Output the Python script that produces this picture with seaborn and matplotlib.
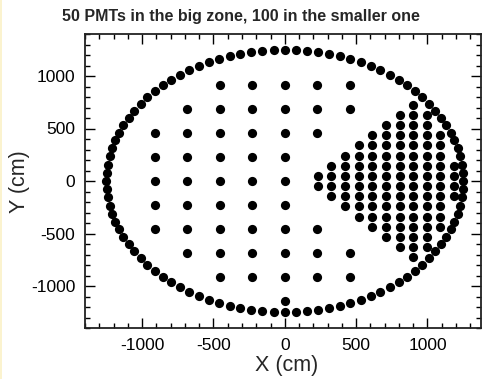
import matplotlib
matplotlib.use("Agg")
import matplotlib.pyplot as plt
from matplotlib.ticker import MultipleLocator
from matplotlib.patches import Rectangle
import seaborn as sns
import pandas as pd

title = "50 PMTs in the big zone, 100 in the smaller one"
x_label = "X (cm)"
y_label = "Y (cm)"
x_ticks = [-1000, -500, 0, 500, 1000]
y_ticks = [-1000, -500, 0, 500, 1000]

# outer ring of PMTs (cm)
ring_x = [1250, 1248, 1240, 1228, 1211, 1189, 1162, 1131, 1095, 1055, 1011, 963, 911, 856, 797, 735,
          670, 602, 532, 460, 386, 311, 234, 157, 78, 0, -78, -157, -234, -311, -386, -460, -532,
          -602, -670, -735, -797, -856, -911, -963, -1011, -1055, -1095, -1131, -1162, -1189, -1211,
          -1228, -1240, -1248, -1250, -1248, -1240, -1228, -1211, -1189, -1162, -1131, -1095, -1055,
          -1011, -963, -911, -856, -797, -735, -670, -602, -532, -460, -386, -311, -234, -157, -78,
          0, 78, 157, 234, 311, 386, 460, 532, 602, 670, 735, 797, 856, 911, 963, 1011, 1055, 1095,
          1131, 1162, 1189, 1211, 1228, 1240, 1248]
ring_y = [0, 78, 157, 234, 311, 386, 460, 532, 602, 670, 735, 797, 856, 911, 963, 1011, 1055, 1095,
          1131, 1162, 1189, 1211, 1228, 1240, 1248, 1250, 1248, 1240, 1228, 1211, 1189, 1162, 1131,
          1095, 1055, 1011, 963, 911, 856, 797, 735, 670, 602, 532, 460, 386, 311, 234, 157, 78, 0,
          -78, -157, -234, -311, -386, -460, -532, -602, -670, -735, -797, -856, -911, -963, -1011,
          -1055, -1095, -1131, -1162, -1189, -1211, -1228, -1240, -1248, -1250, -1248, -1240, -1228,
          -1211, -1189, -1162, -1131, -1095, -1055, -1011, -963, -911, -856, -797, -735, -670, -602,
          -532, -460, -386, -311, -234, -157, -78]

# big zone: 50 PMTs, listed row by row
big_rows_y = [912, 684, 456, 228, 0, -228, -456, -684, -912, -1140]
big_rows_x = [
    [-456, -228, 0, 228, 456],
    [-684, -456, -228, 0, 228, 456],
    [-912, -684, -456, -228, 0, 228],
    [-912, -684, -456, -228, 0],
    [-912, -684, -456, -228, 0],
    [-912, -684, -456, -228, 0],
    [-912, -684, -456, -228, 0, 228],
    [-684, -456, -228, 0, 228, 456],
    [-456, -228, 0, 228, 456],
    [0],
]

# smaller zone: 100 PMTs, listed row by row
small_rows_y = [722, 626, 530, 436, 340, 242, 146, 48, -48, -146, -242, -340, -436, -530, -626, -722]
small_rows_x = [
    [900],
    [804, 900, 996],
    [708, 804, 900, 996],
    [613, 708, 804, 900, 996, 1091],
    [517, 613, 708, 804, 900, 996, 1091],
    [421, 517, 613, 708, 804, 900, 996, 1091],
    [326, 421, 517, 613, 708, 804, 900, 996, 1091, 1187],
    [231, 326, 421, 517, 613, 708, 804, 900, 996, 1091, 1187],
    [231, 326, 421, 517, 613, 708, 804, 900, 996, 1091, 1187],
    [326, 421, 517, 613, 708, 804, 900, 996, 1091, 1187],
    [421, 517, 613, 708, 804, 900, 996, 1091],
    [517, 613, 708, 804, 900, 996, 1091],
    [613, 708, 804, 900, 996, 1091],
    [708, 804, 900, 996],
    [804, 900, 996],
    [900],
]

xs, ys = list(ring_x), list(ring_y)
for yv, row in zip(big_rows_y, big_rows_x):
    xs += row
    ys += [yv] * len(row)
for yv, row in zip(small_rows_y, small_rows_x):
    xs += row
    ys += [yv] * len(row)
df = pd.DataFrame({"x": xs, "y": ys})

sns.set_style("ticks")
plt.rcParams["font.family"] = ["Liberation Sans", "DejaVu Sans"]

W, H = 482, 379
fig = plt.figure(figsize=(W / 100, H / 100), dpi=100)
fig.patch.set_facecolor("white")
ax = fig.add_axes([85 / W, 1 - 328 / H, 396 / W, 294 / H])

sns.scatterplot(data=df, x="x", y="y", ax=ax, color="black", s=44, linewidth=0, legend=False)

ax.set_xlim(-1400, 1375)
ax.set_ylim(-1400, 1400)
ax.set_xticks(x_ticks)
ax.set_yticks(y_ticks)
ax.set_xticklabels([str(v) for v in x_ticks])
ax.set_yticklabels([str(v) for v in y_ticks])
ax.xaxis.set_minor_locator(MultipleLocator(100))
ax.yaxis.set_minor_locator(MultipleLocator(100))
ax.tick_params(which="both", direction="in", top=True, right=True, colors="black", width=1.0)
ax.tick_params(which="major", length=7, labelsize=12.5, pad=7)
ax.tick_params(which="minor", length=3.5)
for sp in ax.spines.values():
    sp.set_visible(True)
    sp.set_color("#222222")
    sp.set_linewidth(1.3)
ax.set_xlabel("")
ax.set_ylabel("")

fig.text(287 / W, 1 - 366 / H, x_label, ha="center", va="center", fontsize=15.5)
fig.text(20 / W, 1 - 182 / H, y_label, ha="center", va="center", fontsize=15.5, rotation=90)
fig.text(241 / W, 1 - 16 / H, title, ha="center", va="center", fontsize=11.5, fontweight="bold")

fig.patches.append(Rectangle((0, 0), 2 / W, 1, transform=fig.transFigure,
                             facecolor="#fbf3cf", edgecolor="none"))

fig.savefig("out.png", dpi=100)
